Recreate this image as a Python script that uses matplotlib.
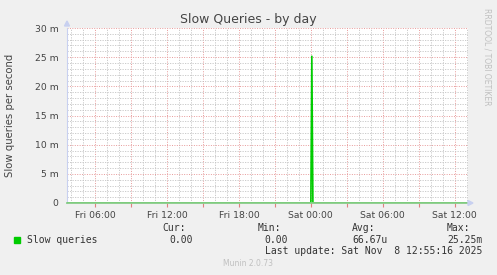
import matplotlib
matplotlib.use('Agg')
import matplotlib.pyplot as plt
from matplotlib.ticker import MultipleLocator, FixedLocator

# time in hours since Fri 00:00, values in queries/s
times = [3.67, 23.92, 24.0, 24.08, 24.17, 24.25, 37.1]
values = [0.0, 0.0, 0.0, 0.02525, 0.0, 0.0, 0.0]

xlim = (3.67, 37.1)
xgrid_major = [6, 9, 12, 15, 18, 21, 24, 27, 30, 33, 36]
xtick_pos = [6, 12, 18, 24, 30, 36]
xtick_labels = ['Fri 06:00', 'Fri 12:00', 'Fri 18:00', 'Sat 00:00', 'Sat 06:00', 'Sat 12:00']
ytick_pos = [0, 0.005, 0.010, 0.015, 0.020, 0.025, 0.030]
ytick_labels = ['0', '5 m', '10 m', '15 m', '20 m', '25 m', '30 m']

legend_cols = ['Cur:', 'Min:', 'Avg:', 'Max:']
legend_vals = ['0.00', '0.00', '66.67u', '25.25m']

BG = '#f0f0f0'
GREEN = '#00cc00'

fig = plt.figure(figsize=(4.97, 2.75), dpi=100, facecolor=BG)
ax = fig.add_axes([67 / 497, 72 / 275, 401 / 497, 175 / 275])
ax.set_facecolor('white')

ax.plot(times, values, color=GREEN, lw=1.2, zorder=4, solid_joinstyle='miter')

# grid: minor grey dotted, major red dotted
ax.set_xticks(xgrid_major)
ax.set_xticklabels([xtick_labels[xtick_pos.index(v)] if v in xtick_pos else '' for v in xgrid_major])
ax.xaxis.set_minor_locator(MultipleLocator(1))
ax.yaxis.set_major_locator(FixedLocator(ytick_pos))
ax.yaxis.set_minor_locator(MultipleLocator(0.001))
ax.set_yticklabels(ytick_labels)
ax.grid(True, which='minor', color='#c4c4c4', lw=0.6, linestyle=(0, (1.5, 1.5)), zorder=1)
ax.grid(True, which='major', color='#e79a9a', lw=0.7, linestyle=(0, (1, 1.5)), zorder=2)

ax.set_xlim(*xlim)
ax.set_ylim(0, 0.030)

ax.tick_params(axis='x', which='major', length=3, color='#e08080', labelsize=6.7,
               labelcolor='#444444', pad=3)
ax.tick_params(axis='x', which='minor', length=0)
ax.tick_params(axis='y', which='both', length=0, labelsize=6.7, labelcolor='#444444', pad=6)

for s in ['top', 'right']:
    ax.spines[s].set_visible(False)
ax.spines['left'].set_color('#c8d0f0')
ax.spines['bottom'].set_color('#88cc88')
ax.spines['left'].set_linewidth(0.8)
ax.spines['bottom'].set_linewidth(1.3)
ax.spines['bottom'].set_zorder(5)

# axis arrows
fig.patches.append(plt.Polygon([[64.5, 249], [69.5, 249], [67, 254]], closed=True,
                               transform=None, color='#c8d0f0'))
fig.patches.append(plt.Polygon([[468, 74.5], [468, 69.5], [473, 72]], closed=True,
                               transform=None, color='#c8d0f0'))

fig.text(248 / 497, 1 - 19 / 275, 'Slow Queries - by day', ha='center', va='center',
         fontsize=9, color='#444444')
fig.text(10 / 497, 1 - 115 / 275, 'Slow queries per second', ha='center', va='center',
         rotation=90, fontsize=7.3, color='#444444')
fig.text(487 / 497, 1 - 57 / 275, 'RRDTOOL / TOBI OETIKER', ha='center', va='center',
         rotation=270, fontsize=5.5, color='#c0c0c0')

mono = 'DejaVu Sans Mono'
fig.patches.append(plt.Rectangle((14 / 497, 1 - 243 / 275), 6 / 497, 6 / 275,
                                 transform=fig.transFigure, color=GREEN))
fig.text(27 / 497, 1 - 240 / 275, 'Slow queries', ha='left', va='center',
         family=mono, fontsize=7, color='#333333')
col_x = [186, 281, 375, 470]
val_x = [193, 288, 388, 483]
for cx, vx, c, v in zip(col_x, val_x, legend_cols, legend_vals):
    fig.text(cx / 497, 1 - 228 / 275, c, ha='right', va='center',
             family=mono, fontsize=7, color='#333333')
    fig.text(vx / 497, 1 - 240 / 275, v, ha='right', va='center',
             family=mono, fontsize=7, color='#333333')
fig.text(482 / 497, 1 - 251 / 275, 'Last update: Sat Nov  8 12:55:16 2025', ha='right',
         va='center', family=mono, fontsize=7, color='#333333')
fig.text(248 / 497, 1 - 263 / 275, 'Munin 2.0.73', ha='center', va='center',
         fontsize=5.5, color='#c0c0c0')

fig.savefig('out.png', dpi=100, facecolor=BG)
